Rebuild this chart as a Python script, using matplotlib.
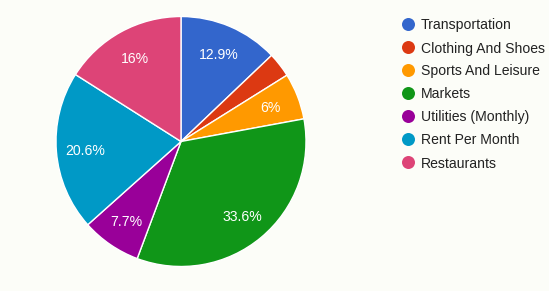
import numpy as np
import matplotlib.pyplot as plt

categories = [
    "Transportation",
    "Clothing And Shoes",
    "Sports And Leisure",
    "Markets",
    "Utilities (Monthly)",
    "Rent Per Month",
    "Restaurants",
]
shares = [12.9, 3.2, 6.0, 33.6, 7.7, 20.6, 16.0]
label_texts = ["12.9%", "", "6%", "33.6%", "7.7%", "20.6%", "16%"]
colors = ["#3366cc", "#dc3912", "#ff9900", "#109618", "#990099", "#0099c6", "#dd4477"]

BG = "#fcfdf8"
W, H = 549, 291
FONT = "Liberation Sans"
FS = 14 * 72 / 100  # 14px at dpi 100

fig = plt.figure(figsize=(W / 100, H / 100), dpi=100, facecolor=BG)

# pie axes: centre (181, 141.5), radius 125 px
cx, cy, r = 181, 141.5, 125
ax = fig.add_axes([(cx - r) / W, (H - cy - r) / H, 2 * r / W, 2 * r / H])
ax.set_facecolor(BG)
wedges, _ = ax.pie(
    shares,
    colors=colors,
    startangle=90,
    counterclock=False,
    radius=1.0,
    wedgeprops=dict(edgecolor="white", linewidth=1),
)
for w, txt in zip(wedges, label_texts):
    if not txt:
        continue
    mid = np.deg2rad((w.theta1 + w.theta2) / 2)
    ax.text(0.77 * np.cos(mid), 0.77 * np.sin(mid), txt, ha="center",
            va="center_baseline", color="white", fontsize=FS, family=FONT)
ax.set_xlim(-1, 1)
ax.set_ylim(-1, 1)
ax.set_aspect("equal")
ax.axis("off")

# legend drawn in pixel coordinates
lax = fig.add_axes([0, 0, 1, 1], facecolor="none")
lax.set_xlim(0, W)
lax.set_ylim(H, 0)
lax.axis("off")
y0, step = 24, 23.0
for i, (name, c) in enumerate(zip(categories, colors)):
    y = y0 + i * step
    lax.plot(408.3, y, "o", color=c, markersize=13 * 0.72, markeredgewidth=0)
    lax.text(421, y, name, ha="left", va="center_baseline", color="#222222",
             fontsize=FS, family=FONT)

fig.savefig("out.png", dpi=100, facecolor=BG)
